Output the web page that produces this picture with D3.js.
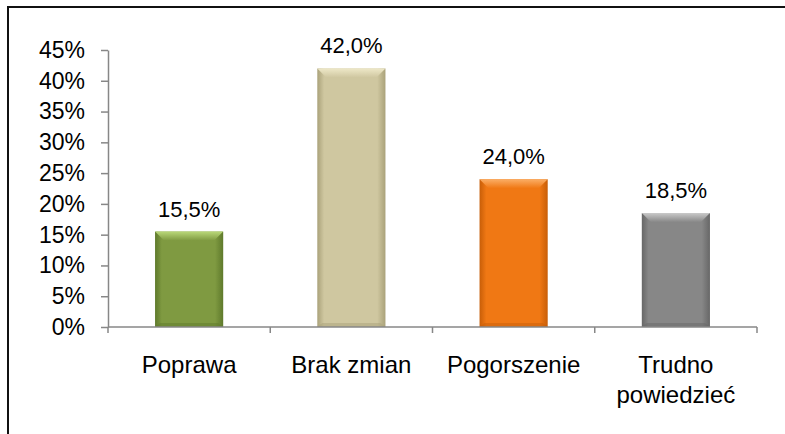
<!doctype html>
<html lang="pl">
  <head>
    <meta charset="UTF-8" />
    <title>Ocena zmian</title>
    <script src="https://cdn.jsdelivr.net/npm/d3@7"></script>
    <style>
      html, body { margin: 0; padding: 0; background: #fff; }
      svg { display: block; font-family: "Liberation Sans", Arial, sans-serif; }
    </style>
  </head>
  <body>
    <div id="chart"></div>
    <script>
      // data
      const categories = ["Poprawa", "Brak zmian", "Pogorszenie", "Trudno powiedzieć"];
      const values = [15.5, 42.0, 24.0, 18.5];
      const yTicks = [0, 5, 10, 15, 20, 25, 30, 35, 40, 45];
      const baseColors = ["#7f9a41", "#cfc7a0", "#f07814", "#878787"];
      const lightColors = ["#b9d878", "#eee8c8", "#fbae66", "#c9c9c9"];
      const darkColors = ["#5f7a2c", "#aaa27a", "#c85e08", "#676767"];

      const width = 785;
      const height = 434;
      const marginLeft = 108;
      const marginRight = 28;
      const marginTop = 50;
      const marginBottom = 107;

      const svg = d3.select("#chart").append("svg")
        .attr("width", width)
        .attr("height", height);

      // frame (only left and top edges are in view)
      svg.append("path")
        .attr("d", `M8,${height} L8,7 L${width},7`)
        .attr("fill", "none")
        .attr("stroke", "#111")
        .attr("stroke-width", 2);

      const x = d3.scaleBand()
        .domain(categories)
        .range([marginLeft, width - marginRight])
        .paddingInner(0.58)
        .paddingOuter(0.29);

      const y = d3.scaleLinear()
        .domain([0, 45])
        .range([height - marginBottom, marginTop]);

      // gradients for the bevelled bars
      const defs = svg.append("defs");
      categories.forEach((c, i) => {
        const g = defs.append("linearGradient")
          .attr("id", "grad" + i)
          .attr("x1", "0").attr("x2", "1").attr("y1", "0").attr("y2", "0");
        g.append("stop").attr("offset", "0").attr("stop-color", darkColors[i]);
        g.append("stop").attr("offset", "0.1").attr("stop-color", baseColors[i]);
        g.append("stop").attr("offset", "0.88").attr("stop-color", baseColors[i]);
        g.append("stop").attr("offset", "1").attr("stop-color", darkColors[i]);
        const t = defs.append("linearGradient")
          .attr("id", "top" + i)
          .attr("x1", "0").attr("x2", "0").attr("y1", "0").attr("y2", "1");
        t.append("stop").attr("offset", "0").attr("stop-color", lightColors[i]);
        t.append("stop").attr("offset", "1").attr("stop-color", baseColors[i]);
      });

      // y axis
      const yAxis = svg.append("g")
        .attr("transform", `translate(${marginLeft},0)`)
        .call(d3.axisLeft(y).tickValues(yTicks).tickSize(7).tickPadding(16)
          .tickFormat(d => d + "%").tickSizeOuter(0));
      yAxis.select(".domain").attr("stroke", "#878787").attr("stroke-width", 1.5);
      yAxis.selectAll(".tick line").attr("stroke", "#878787").attr("stroke-width", 1.5);
      yAxis.selectAll(".tick text")
        .attr("fill", "#000")
        .style("font-size", "23px")
        .style("font-family", "Liberation Sans, Arial, sans-serif");

      // bars
      const bars = svg.append("g").selectAll("g")
        .data(values)
        .join("g");

      bars.append("rect")
        .attr("x", (d, i) => x(categories[i]))
        .attr("y", d => y(d))
        .attr("width", x.bandwidth())
        .attr("height", d => y(0) - y(d))
        .attr("fill", (d, i) => `url(#grad${i})`);

      // top bevel
      const bevel = 9;
      bars.append("path")
        .attr("d", (d, i) => {
          const x0 = x(categories[i]);
          const x1 = x0 + x.bandwidth();
          const t = y(d);
          return `M${x0},${t} L${x1},${t} L${x1 - bevel},${t + bevel} L${x0 + bevel},${t + bevel} Z`;
        })
        .attr("fill", (d, i) => `url(#top${i})`);

      // bottom shade
      bars.append("path")
        .attr("d", (d, i) => {
          const x0 = x(categories[i]);
          const x1 = x0 + x.bandwidth();
          const b = y(0);
          return `M${x0},${b} L${x1},${b} L${x1 - 5},${b - 4} L${x0 + 5},${b - 4} Z`;
        })
        .attr("fill", (d, i) => darkColors[i])
        .attr("opacity", 0.5);

      // value labels
      bars.append("text")
        .attr("x", (d, i) => x(categories[i]) + x.bandwidth() / 2)
        .attr("y", d => y(d) - 15)
        .attr("text-anchor", "middle")
        .style("font-size", "22px")
        .text(d => d.toFixed(1).replace(".", ",") + "%");

      // x axis
      const xAxisG = svg.append("g")
        .attr("transform", `translate(0,${y(0)})`);
      xAxisG.append("line")
        .attr("x1", marginLeft).attr("x2", width - marginRight)
        .attr("stroke", "#878787").attr("stroke-width", 1.5);
      const bounds = d3.range(categories.length + 1)
        .map(i => marginLeft + i * (width - marginRight - marginLeft) / categories.length);
      xAxisG.selectAll(".xt")
        .data(bounds)
        .join("line")
        .attr("x1", d => d).attr("x2", d => d)
        .attr("y1", 0).attr("y2", 6)
        .attr("stroke", "#878787").attr("stroke-width", 1.5);

      // category labels (wrapped)
      const labels = svg.append("g").selectAll("text")
        .data(categories)
        .join("text")
        .attr("x", d => x(d) + x.bandwidth() / 2)
        .attr("y", 373)
        .attr("text-anchor", "middle")
        .style("font-size", "24px");
      labels.each(function (d) {
        const words = d === "Trudno powiedzieć" ? ["Trudno", "powiedzieć"] : [d];
        const el = d3.select(this);
        words.forEach((w, k) => {
          el.append("tspan")
            .attr("x", x(d) + x.bandwidth() / 2)
            .attr("dy", k === 0 ? 0 : 30)
            .text(w);
        });
      });
    </script>
  </body>
</html>
